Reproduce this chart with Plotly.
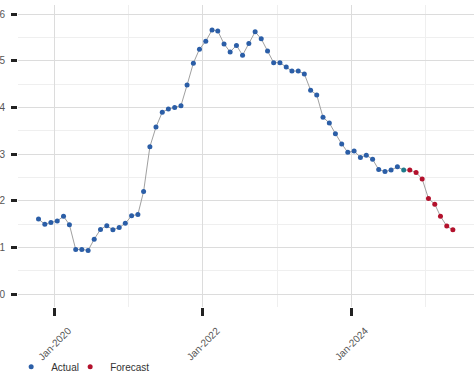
import plotly.graph_objects as go

actual_dates = [
    "2019-10-15", "2019-11-15", "2019-12-15",
    "2020-01-15", "2020-02-15", "2020-03-15", "2020-04-15", "2020-05-15", "2020-06-15",
    "2020-07-15", "2020-08-15", "2020-09-15", "2020-10-15", "2020-11-15", "2020-12-15",
    "2021-01-15", "2021-02-15", "2021-03-15", "2021-04-15", "2021-05-15", "2021-06-15",
    "2021-07-15", "2021-08-15", "2021-09-15", "2021-10-15", "2021-11-15", "2021-12-15",
    "2022-01-15", "2022-02-15", "2022-03-15", "2022-04-15", "2022-05-15", "2022-06-15",
    "2022-07-15", "2022-08-15", "2022-09-15", "2022-10-15", "2022-11-15", "2022-12-15",
    "2023-01-15", "2023-02-15", "2023-03-15", "2023-04-15", "2023-05-15", "2023-06-15",
    "2023-07-15", "2023-08-15", "2023-09-15", "2023-10-15", "2023-11-15", "2023-12-15",
    "2024-01-15", "2024-02-15", "2024-03-15", "2024-04-15", "2024-05-15", "2024-06-15",
    "2024-07-15", "2024-08-15", "2024-09-15",
]
actual_values = [
    1.61, 1.50, 1.54,
    1.57, 1.67, 1.49, 0.96, 0.96, 0.94,
    1.18, 1.39, 1.47, 1.38, 1.43, 1.52,
    1.68, 1.71, 2.20, 3.16, 3.58, 3.90,
    3.97, 4.00, 4.04, 4.48, 4.95, 5.25,
    5.42, 5.66, 5.64, 5.36, 5.19, 5.33,
    5.12, 5.37, 5.62, 5.47, 5.21, 4.96,
    4.96, 4.87, 4.78, 4.78, 4.72, 4.37,
    4.27, 3.79, 3.67, 3.44, 3.22, 3.04,
    3.07, 2.93, 2.98, 2.89, 2.67, 2.63,
    2.66, 2.73, 2.66,
]
forecast_dates = [
    "2024-10-15", "2024-11-15", "2024-12-15",
    "2025-01-15", "2025-02-15", "2025-03-15", "2025-04-15", "2025-05-15",
]
forecast_values = [2.66, 2.61, 2.47, 2.05, 1.93, 1.67, 1.46, 1.38]

x_tick_vals = ["2020-01-01", "2022-01-01", "2024-01-01"]
x_tick_text = ["Jan-2020", "Jan-2022", "Jan-2024"]
y_tick_vals = [0, 1, 2, 3, 4, 5, 6]

BLUE = "#2b5ea7"
RED = "#b3112c"

fig = go.Figure()
fig.add_trace(go.Scatter(
    x=actual_dates + forecast_dates,
    y=actual_values + forecast_values,
    mode="lines", line=dict(color="#a0a0a0", width=1),
    showlegend=False, hoverinfo="skip",
))
actual_colors = [BLUE] * (len(actual_values) - 1) + ["#1f7a8c"]
fig.add_trace(go.Scatter(
    x=actual_dates, y=actual_values, mode="markers", name="Actual",
    marker=dict(color=actual_colors, size=5), legendwidth=14,
))
fig.add_trace(go.Scatter(
    x=forecast_dates, y=forecast_values, mode="markers", name="Forecast",
    marker=dict(color=RED, size=5),
))

fig.update_layout(
    width=474, height=390,
    margin=dict(l=18, r=0, t=5, b=83, autoexpand=False),
    paper_bgcolor="white", plot_bgcolor="white",
    font=dict(family="Liberation Sans, Arial, sans-serif", color="#444", size=10),
    legend=dict(orientation="h", x=-0.015, xref="paper", y=-0.15, yanchor="top",
                font=dict(size=10, color="#333"), itemwidth=30,
                itemsizing="trace", bgcolor="rgba(0,0,0,0)"),
    showlegend=True,
)
fig.update_xaxes(
    type="date",
    range=["2019-07-06", "2025-08-27"],
    tickmode="array", tickvals=x_tick_vals, ticktext=x_tick_text,
    tickangle=-45, ticks="outside", ticklen=8, tickwidth=3, tickcolor="#222",
    ticklabelshift=14, ticklabelstandoff=5,
    showgrid=True, gridcolor="#dcdcdc", gridwidth=1,
    minor=dict(dtick="M12", tick0="2021-01-01", showgrid=True,
               gridcolor="#efefef", gridwidth=1, ticks=""),
    showline=False, zeroline=False, automargin=False,
    tickfont=dict(size=10, color="#555"),
)
fig.update_yaxes(
    range=[-0.272, 6.195],
    tickmode="array", tickvals=y_tick_vals,
    ticks="outside", ticklen=6, tickwidth=3, tickcolor="#222",
    ticklabelstandoff=4,
    showgrid=True, gridcolor="#dcdcdc", gridwidth=1,
    minor=dict(dtick=0.5, tick0=0, showgrid=True, gridcolor="#efefef", gridwidth=1),
    showline=False, zeroline=False, automargin=False,
    tickfont=dict(size=10, color="#555"),
)

fig.write_html(
    "out.html",
    config={"displayModeBar": False},
    post_script="document.body.style.margin='0px';document.body.style.overflow='hidden';",
)
